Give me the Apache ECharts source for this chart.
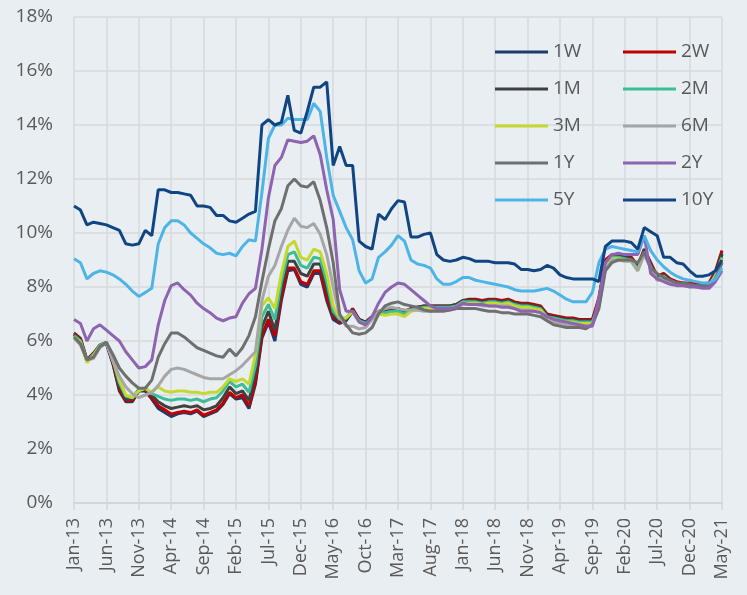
<!DOCTYPE html>
<html>
<head>
<meta charset="utf-8">
<script src="https://cdn.jsdelivr.net/npm/echarts@6/dist/echarts.min.js"></script>
<style>
html,body{margin:0;padding:0;background:#e9eef2;}
#chart{width:747px;height:595px;}
</style>
</head>
<body>
<div id="chart"></div>
<script>
const months = [
"Jan-13","Feb-13","Mar-13","Apr-13","May-13","Jun-13","Jul-13","Aug-13","Sep-13","Oct-13","Nov-13","Dec-13",
"Jan-14","Feb-14","Mar-14","Apr-14","May-14","Jun-14","Jul-14","Aug-14","Sep-14","Oct-14","Nov-14","Dec-14",
"Jan-15","Feb-15","Mar-15","Apr-15","May-15","Jun-15","Jul-15","Aug-15","Sep-15","Oct-15","Nov-15","Dec-15",
"Jan-16","Feb-16","Mar-16","Apr-16","May-16","Jun-16","Jul-16","Aug-16","Sep-16","Oct-16","Nov-16","Dec-16",
"Jan-17","Feb-17","Mar-17","Apr-17","May-17","Jun-17","Jul-17","Aug-17","Sep-17","Oct-17","Nov-17","Dec-17",
"Jan-18","Feb-18","Mar-18","Apr-18","May-18","Jun-18","Jul-18","Aug-18","Sep-18","Oct-18","Nov-18","Dec-18",
"Jan-19","Feb-19","Mar-19","Apr-19","May-19","Jun-19","Jul-19","Aug-19","Sep-19","Oct-19","Nov-19","Dec-19",
"Jan-20","Feb-20","Mar-20","Apr-20","May-20","Jun-20","Jul-20","Aug-20","Sep-20","Oct-20","Nov-20","Dec-20",
"Jan-21","Feb-21","Mar-21","Apr-21","May-21"];

const yTicks = [0,2,4,6,8,10,12,14,16,18];

const s1W = [6.25,6.05,5.25,5.5,5.8,5.9,5.15,4.15,3.75,3.75,
4.15,4.15,3.85,3.5,3.35,3.2,3.3,3.35,3.3,3.4,
3.2,3.3,3.4,3.65,4.05,3.85,3.9,3.5,4.4,6.1,
6.7,6.0,7.5,8.6,8.65,8.1,8.0,8.5,8.5,7.5,
6.8,6.65,6.75,7.1,6.75,6.65,6.85,7.05,7.05,7.1,
7.15,7.05,7.15,7.2,7.25,7.25,7.25,7.25,7.25,7.3,
7.45,7.5,7.5,7.45,7.5,7.5,7.45,7.5,7.4,7.35,
7.35,7.3,7.25,6.95,6.9,6.85,6.8,6.8,6.75,6.75,
6.75,7.5,8.95,9.15,9.15,9.1,9.05,8.75,9.35,8.85,
8.35,8.45,8.25,8.15,8.1,8.1,8.05,8.05,8.1,8.55,
9.2];
const s2W = [6.3,6.1,5.3,5.55,5.85,5.95,5.2,4.2,3.8,3.8,
4.2,4.2,3.9,3.6,3.45,3.3,3.35,3.4,3.35,3.45,
3.25,3.35,3.45,3.7,4.1,3.9,4.0,3.6,4.5,6.2,
6.8,6.2,7.6,8.7,8.7,8.2,8.1,8.6,8.6,7.6,
6.9,6.7,6.8,7.2,6.8,6.7,6.9,7.1,7.1,7.15,
7.2,7.1,7.2,7.25,7.3,7.3,7.3,7.3,7.3,7.35,
7.5,7.55,7.55,7.5,7.55,7.55,7.5,7.55,7.45,7.4,
7.4,7.35,7.3,7.0,6.95,6.9,6.85,6.85,6.8,6.8,
6.8,7.6,9.0,9.2,9.2,9.15,9.1,8.8,9.4,8.9,
8.4,8.5,8.3,8.2,8.15,8.15,8.1,8.1,8.15,8.6,
9.35];
const s1M = [6.25,6.05,5.3,5.5,5.85,5.95,5.25,4.3,3.85,3.85,
4.2,4.25,4.0,3.75,3.6,3.5,3.55,3.6,3.55,3.6,
3.45,3.5,3.6,3.9,4.3,4.05,4.15,3.8,4.8,6.5,
7.1,6.4,7.9,8.95,8.95,8.5,8.4,8.85,8.85,7.9,
7.0,6.75,6.8,7.15,6.8,6.7,6.9,7.1,7.1,7.15,
7.2,7.1,7.2,7.25,7.3,7.3,7.3,7.3,7.3,7.35,
7.5,7.5,7.5,7.45,7.5,7.5,7.45,7.5,7.4,7.35,
7.35,7.3,7.25,6.95,6.9,6.85,6.8,6.8,6.75,6.75,
6.75,7.5,8.9,9.15,9.15,9.1,9.05,8.7,9.4,8.85,
8.35,8.45,8.25,8.15,8.1,8.1,8.05,8.05,8.1,8.5,
9.25];
const s2M = [6.2,6.0,5.25,5.5,5.85,5.95,5.3,4.45,3.95,3.9,
4.2,4.25,4.05,3.95,3.85,3.8,3.85,3.85,3.8,3.85,
3.75,3.85,3.9,4.15,4.5,4.3,4.4,4.1,5.1,6.9,
7.35,6.8,8.2,9.2,9.3,8.8,8.7,9.1,9.05,8.2,
7.1,6.8,6.85,7.1,6.75,6.65,6.85,7.05,7.05,7.1,
7.1,7.0,7.15,7.2,7.25,7.25,7.25,7.25,7.25,7.3,
7.45,7.45,7.45,7.4,7.45,7.45,7.4,7.45,7.35,7.3,
7.3,7.25,7.2,6.9,6.85,6.8,6.75,6.75,6.7,6.7,
6.7,7.4,8.8,9.1,9.1,9.05,9.0,8.65,9.3,8.75,
8.3,8.4,8.2,8.1,8.1,8.05,8.05,8.0,8.05,8.45,
9.1];
const s3M = [6.15,5.95,5.2,5.45,5.8,5.95,5.3,4.55,4.0,3.9,
4.15,4.25,4.1,4.3,4.15,4.1,4.15,4.15,4.1,4.1,
4.05,4.1,4.1,4.3,4.6,4.5,4.6,4.4,5.5,7.3,
7.6,7.2,8.5,9.5,9.7,9.1,9.0,9.4,9.3,8.5,
7.3,6.85,6.85,7.1,6.7,6.6,6.8,7.0,6.95,7.0,
7.0,6.9,7.1,7.15,7.2,7.2,7.2,7.2,7.2,7.25,
7.4,7.4,7.4,7.35,7.4,7.4,7.35,7.4,7.3,7.25,
7.25,7.2,7.15,6.85,6.8,6.75,6.7,6.7,6.65,6.65,
6.65,7.3,8.7,9.05,9.05,9.0,8.95,8.6,9.25,8.7,
8.25,8.35,8.15,8.1,8.05,8.05,8.0,8.0,8.05,8.4,
9.05];
const s6M = [6.1,5.85,5.3,5.35,5.75,5.95,5.25,4.7,4.3,4.05,
3.9,4.0,4.1,4.35,4.7,4.95,5.0,4.95,4.85,4.75,
4.65,4.6,4.6,4.6,4.75,4.9,5.1,5.35,5.6,7.5,
8.4,8.8,9.5,10.1,10.55,10.25,10.2,10.35,9.95,9.2,
8.0,6.9,6.55,6.55,6.45,6.5,6.8,7.1,7.2,7.25,
7.2,7.15,7.15,7.15,7.1,7.1,7.15,7.15,7.15,7.2,
7.35,7.35,7.35,7.3,7.3,7.3,7.3,7.3,7.2,7.15,
7.15,7.1,7.05,6.75,6.7,6.65,6.6,6.6,6.55,6.55,
6.6,7.25,8.65,9.0,9.0,8.95,8.95,8.6,9.2,8.7,
8.25,8.3,8.15,8.1,8.05,8.05,8.0,8.0,8.05,8.35,
8.95];
const s1Y = [6.15,5.9,5.3,5.4,5.8,5.95,5.5,5.0,4.7,4.45,
4.25,4.25,4.55,5.4,5.9,6.3,6.3,6.15,5.95,5.75,
5.65,5.55,5.45,5.4,5.7,5.45,5.75,6.2,6.9,8.2,
9.4,10.45,10.9,11.75,12.0,11.75,11.7,11.9,11.2,10.2,
8.9,7.0,6.6,6.3,6.25,6.3,6.5,7.0,7.3,7.4,
7.45,7.35,7.3,7.25,7.15,7.1,7.1,7.1,7.15,7.2,
7.2,7.2,7.2,7.15,7.1,7.1,7.05,7.05,7.0,7.0,
7.0,6.95,6.9,6.75,6.6,6.55,6.5,6.5,6.5,6.45,
6.6,7.2,8.6,8.9,9.0,9.0,9.0,8.9,9.3,8.7,
8.5,8.35,8.25,8.15,8.15,8.1,8.05,8.05,8.05,8.3,
8.9];
const s2Y = [6.8,6.65,6.0,6.45,6.6,6.4,6.2,6.0,5.6,5.3,
5.0,5.05,5.3,6.6,7.5,8.05,8.15,7.9,7.7,7.4,
7.2,7.05,6.85,6.75,6.85,6.9,7.4,7.75,7.95,9.4,
11.3,12.5,12.8,13.45,13.4,13.35,13.4,13.6,12.9,11.6,
10.5,7.9,7.1,7.1,6.7,6.6,6.9,7.4,7.8,8.0,
8.15,8.1,7.9,7.7,7.5,7.3,7.2,7.2,7.2,7.25,
7.4,7.35,7.35,7.35,7.3,7.3,7.25,7.25,7.2,7.1,
7.1,7.1,7.05,6.9,6.8,6.75,6.7,6.65,6.6,6.55,
6.55,7.6,8.9,9.2,9.25,9.2,9.2,9.2,9.9,8.5,
8.3,8.2,8.1,8.05,8.05,8.0,8.0,7.95,7.95,8.2,
8.6];
const s5Y = [9.05,8.9,8.3,8.5,8.6,8.55,8.45,8.3,8.1,7.85,
7.65,7.8,7.95,9.6,10.2,10.45,10.45,10.3,10.0,9.8,
9.6,9.45,9.25,9.2,9.25,9.15,9.5,9.75,9.7,11.5,
13.5,14.0,14.0,14.25,14.2,14.2,14.2,14.8,14.5,12.8,
11.4,10.8,10.2,9.75,8.6,8.15,8.3,9.1,9.3,9.55,
9.9,9.7,9.0,8.85,8.8,8.7,8.3,8.1,8.1,8.2,
8.35,8.35,8.25,8.2,8.15,8.1,8.05,8.0,7.9,7.85,
7.85,7.85,7.9,7.95,7.85,7.7,7.55,7.45,7.45,7.45,
7.8,8.9,9.4,9.5,9.45,9.4,9.35,9.3,9.9,9.35,
9.0,8.75,8.55,8.4,8.3,8.25,8.2,8.15,8.15,8.3,
8.7];
const s10Y = [11.0,10.85,10.3,10.4,10.35,10.3,10.2,10.1,9.6,9.55,
9.6,10.1,9.9,11.6,11.6,11.5,11.5,11.45,11.4,11.0,
11.0,10.95,10.65,10.65,10.45,10.4,10.55,10.7,10.8,14.0,
14.2,14.0,14.1,15.1,13.8,13.7,14.5,15.4,15.4,15.6,
12.5,13.2,12.5,12.5,9.7,9.5,9.4,10.7,10.5,10.9,
11.2,11.15,9.85,9.85,9.95,10.0,9.2,9.0,8.95,9.0,
9.1,9.05,8.95,8.95,8.95,8.9,8.9,8.9,8.85,8.65,
8.65,8.6,8.65,8.8,8.7,8.45,8.35,8.3,8.3,8.3,
8.3,8.2,9.5,9.7,9.7,9.7,9.65,9.4,10.2,10.05,
9.9,9.1,9.1,8.9,8.85,8.6,8.4,8.4,8.45,8.6,
9.0];

const seriesNames = ["1W","2W","1M","2M","3M","6M","1Y","2Y","5Y","10Y"];
const seriesData = [s1W,s2W,s1M,s2M,s3M,s6M,s1Y,s2Y,s5Y,s10Y];
const colors = ["#1f3a6b","#c00000","#404040","#3dbd96","#c4d82e","#a6a6a6","#6f6f6f","#8e63b1","#4db4e8","#0f4583"];

const FONT = "'Open Sans', 'Noto Sans', sans-serif";
const TXT = "#595959";
const GRID = "#d7dadd";

const chart = echarts.init(document.getElementById('chart'), null, {renderer:'canvas'});
const legendCommon = {
  orient:'vertical', top:37, itemWidth:53, itemHeight:3, itemGap:17, icon:'rect',
  selectedMode:false,
  textStyle:{fontFamily:FONT, fontSize:19, color:TXT, lineHeight:20}
};
chart.setOption({
  backgroundColor:'#e9eef2',
  animation:false,
  color:colors,
  grid:{left:74, right:25, top:17, bottom:92, containLabel:false},
  legend:[
    Object.assign({left:490, data:["1W","1M","3M","1Y","5Y"]}, legendCommon),
    Object.assign({left:618, data:["2W","2M","6M","2Y","10Y"]}, legendCommon)
  ],
  xAxis:{
    type:'category', data:months, boundaryGap:false,
    axisLine:{show:true, lineStyle:{color:'#d3d6d9', width:2}},
    axisTick:{show:true, interval:4, length:7, lineStyle:{color:'#d3d6d9', width:1.5}},
    axisLabel:{interval:4, rotate:90, fontFamily:FONT, fontSize:18, color:TXT, margin:15},
    splitLine:{show:true, interval:4, lineStyle:{color:GRID, width:1.5}}
  },
  yAxis:{
    type:'value', min:yTicks[0], max:yTicks[yTicks.length-1], interval:2,
    axisLine:{show:false}, axisTick:{show:false},
    axisLabel:{formatter:'{value}%', fontFamily:FONT, fontSize:19, color:TXT, margin:21},
    splitLine:{show:true, lineStyle:{color:GRID, width:1.5}}
  },
  series: seriesNames.map((n,i)=>({
    name:n, type:'line', data:seriesData[i], showSymbol:false, symbol:'none',
    lineStyle:{width:3, color:colors[i]}, itemStyle:{color:colors[i]},
    emphasis:{disabled:true}
  }))
});
</script>
</body>
</html>
